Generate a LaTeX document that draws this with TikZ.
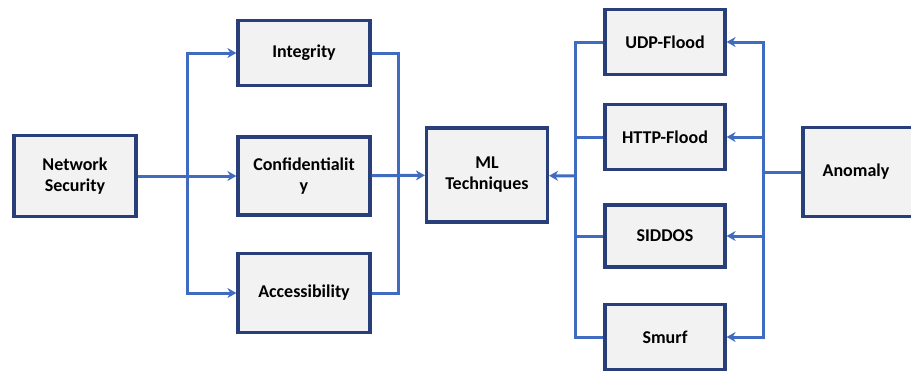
\documentclass[tikz,border=0pt]{standalone}
\usepackage{fontspec}
\setmainfont{Carlito}
\usetikzlibrary{arrows.meta,shadows}

\definecolor{boxline}{HTML}{283F7A}
\definecolor{linkblue}{HTML}{3F6CC0}
\definecolor{boxfill}{HTML}{F2F2F2}

\begin{document}
\begin{tikzpicture}[x=1pt,y=-1pt,
  box/.style={draw=boxline, line width=3.2pt, fill=boxfill, align=center,
    inner sep=0pt, font=\bfseries\fontsize{18}{21}\selectfont,
    drop shadow={opacity=0.35, shadow xshift=1.5pt, shadow yshift=-1.5pt}},
  link/.style={draw=linkblue, line width=3pt},
  arr/.style={link, -{Stealth[length=9pt,width=10pt]}}]
  \useasboundingbox (0,0) rectangle (911,373);

  % left side
  \node[box, minimum width=122pt, minimum height=81pt] (net) at (75,176) {Network\\Security};
  \node[box, minimum width=132pt, minimum height=65pt] (integ) at (304,53) {Integrity};
  \node[box, minimum width=132pt, minimum height=78pt] (conf) at (304,176) {Confidentialit\\y};
  \node[box, minimum width=132pt, minimum height=79pt] (access) at (304,293) {Accessibility};
  \node[box, minimum width=121pt, minimum height=94pt] (ml) at (487,175) {ML\\Techniques};

  % right side
  \node[box, minimum width=120pt, minimum height=65pt] (udp) at (665,42) {UDP-Flood};
  \node[box, minimum width=120pt, minimum height=65pt] (http) at (665,137) {HTTP-Flood};
  \node[box, minimum width=120pt, minimum height=62pt] (siddos) at (665,236) {SIDDOS};
  \node[box, minimum width=120pt, minimum height=65pt] (smurf) at (665,337) {Smurf};
  \node[box, minimum width=112pt, minimum height=89pt] (anomaly) at (859,172) {\hspace*{-6pt}Anomaly};

  \coordinate (lbus) at (187,176);
  \coordinate (mbus) at (398,176);
  \coordinate (rbus) at (575,176);
  \coordinate (abus) at (763,172);

  \path[link] (net) -- (lbus);
  \path[arr] (lbus) |- (integ);
  \path[arr] (lbus) -- (conf);
  \path[arr] (lbus) |- (access);
  \path[link] (integ) -| (mbus);
  \path[link] (access) -| (mbus);
  \path[arr] (conf) -- (ml);

  \path[arr] (rbus) -- (ml);
  \path[link] (udp) -| (rbus);
  \path[link] (http) -| (rbus);
  \path[link] (siddos) -| (rbus);
  \path[link] (smurf) -| (rbus);

  \path[link] (anomaly) -- (abus);
  \path[arr] (abus) |- (udp);
  \path[arr] (abus) |- (http);
  \path[arr] (abus) |- (siddos);
  \path[arr] (abus) |- (smurf);
\end{tikzpicture}
\end{document}
